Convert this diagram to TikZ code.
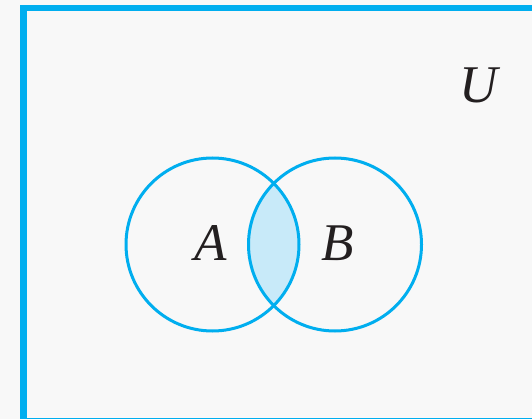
\documentclass[tikz,border=0pt]{standalone}
\usepackage{fontspec}
\setmainfont{Liberation Serif}
\definecolor{cy}{HTML}{00AEEF}
\definecolor{lens}{HTML}{C8EAF9}
\definecolor{bg}{HTML}{F8F8F8}
\definecolor{ink}{HTML}{231F20}
\begin{document}
\begin{tikzpicture}[x=1pt,y=-1pt,
  setcircle/.style={circle, draw=cy, line width=3pt, minimum size=173pt, inner sep=0pt},
  lbl/.style={inner sep=0pt, text=ink, font=\fontsize{53}{60}\selectfont\itshape}]
\useasboundingbox (0,0) rectangle (532,419);
\fill[bg] (0,0) rectangle (532,419);
\begin{scope}
  \clip (0,0) rectangle (532,419);
  \draw[cy, line width=6.5pt] (23.5,8) rectangle (536,421);
\end{scope}
\begin{scope}
  \clip (212.5,244.5) circle (86.5pt);
  \fill[lens] (335,244.5) circle (86.5pt);
\end{scope}
\node[setcircle] (A) at (212.5,244.5) {};
\node[setcircle] (B) at (335,244.5) {};
\node[lbl] (la) at (211,243) {A};
\node[lbl] (lb) at (338,243) {B};
\node[lbl] (lu) at (479,85) {U};
\end{tikzpicture}
\end{document}
